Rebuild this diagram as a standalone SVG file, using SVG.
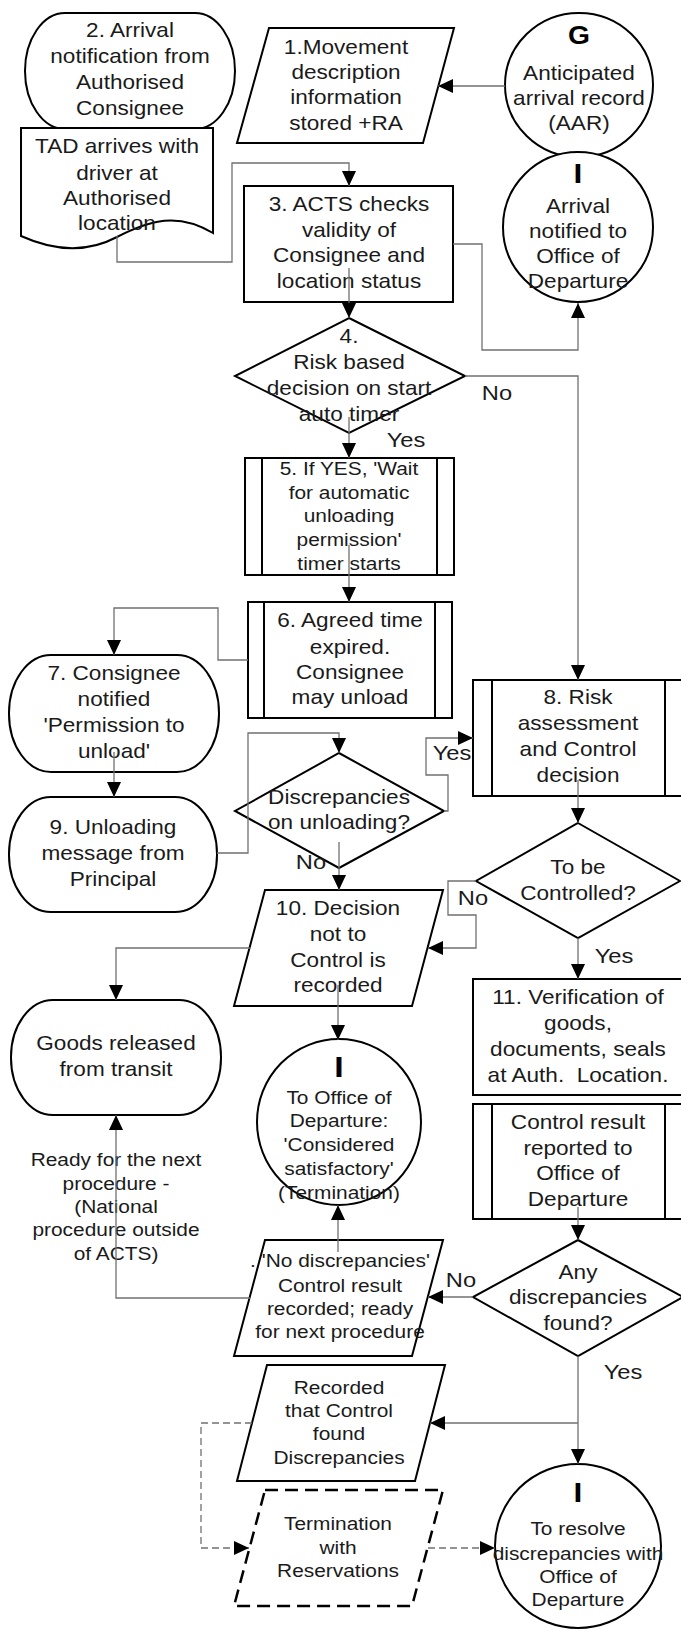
<svg xmlns="http://www.w3.org/2000/svg" width="681" height="1630" viewBox="0 0 681 1630">
<defs>
<style>
.s{fill:#fff;stroke:#000;stroke-width:2}
.l{fill:none;stroke:#000;stroke-width:2}
.c{fill:none;stroke:#707070;stroke-width:1.3}
.d{stroke-dasharray:7 4}
.td{stroke-dasharray:13 7;stroke-width:2.5}
text{font-family:"Liberation Sans",Arial,sans-serif;font-size:20px;fill:#1a1a1a;text-anchor:middle}
.b{font-weight:bold;fill:#000}
.sm{font-size:18.5px}
.lb{font-size:21px}
</style>
<marker id="a" markerUnits="userSpaceOnUse" markerWidth="16" markerHeight="16" refX="15" refY="7" orient="auto"><path d="M0,0 L15,7 L0,14 z" fill="#000"/></marker>
</defs>
<rect width="681" height="1630" fill="#fff"/>

<g id="n2">
<rect class="s" x="25" y="13" width="210" height="116" rx="40" ry="58"/>
<g transform="translate(130 0) scale(1.13 1)"><text y="37">2. Arrival</text><text y="63">notification from</text><text y="89">Authorised</text><text y="115">Consignee</text></g>
</g>
<g id="tad">
<path class="s" d="M21,128 H213 V233 C178,212 150,220 117,237 C85,254 52,250 21,236 Z"/>
<g transform="translate(117 0) scale(1.13 1)"><text y="153">TAD arrives with</text><text y="180">driver at</text><text y="205">Authorised</text><text y="230">location</text></g>
</g>
<g id="n1">
<path class="s" d="M269,28 L454,28 L423,143 L237,143 Z"/>
<g transform="translate(346 0) scale(1.13 1)"><text y="54">1.Movement</text><text y="79">description</text><text y="104">information</text><text y="130">stored +RA</text></g>
</g>
<g id="g">
<ellipse class="s" cx="579" cy="85" rx="74" ry="72"/>
<g transform="translate(579 0) scale(1.13 1)"><text class="b" y="44" style="font-size:25px">G</text><text y="80">Anticipated</text><text y="105">arrival record</text><text y="130">(AAR)</text></g>
</g>
<g id="i1">
<ellipse class="s" cx="578" cy="227" rx="75" ry="75"/>
<g transform="translate(578 0) scale(1.13 1)"><text class="b" y="183" style="font-size:28px">I</text><text y="213">Arrival</text><text y="238">notified to</text><text y="263">Office of</text><text y="288">Departure</text></g>
</g>
<g id="n3">
<rect class="s" x="244" y="186" width="209" height="116"/>
<g transform="translate(349 0) scale(1.13 1)"><text y="211">3. ACTS checks</text><text y="237">validity of</text><text y="262">Consignee and</text><text y="288">location status</text></g>
</g>
<g id="n4">
<path class="s" d="M349,318 L465,376 L349,433 L235,376 Z"/>
<g transform="translate(349 0) scale(1.13 1)"><text y="343">4.</text><text y="369">Risk based</text><text y="395">decision on start</text><text y="421">auto timer</text></g>
</g>
<g id="n5">
<rect class="s" x="245" y="458" width="209" height="117"/>
<path class="l" d="M262,458 V575 M437,458 V575"/>
<g transform="translate(349 0) scale(1.13 1)" class="sm"><text class="sm" y="475">5. If YES, 'Wait</text><text class="sm" y="499">for automatic</text><text class="sm" y="522">unloading</text><text class="sm" y="546">permission'</text><text class="sm" y="570">timer starts</text></g>
</g>
<g id="n6">
<rect class="s" x="248" y="602" width="204" height="116"/>
<path class="l" d="M264,602 V718 M435,602 V718"/>
<g transform="translate(350 0) scale(1.13 1)"><text y="627">6. Agreed time</text><text y="654">expired.</text><text y="679">Consignee</text><text y="704">may unload</text></g>
</g>
<g id="n7">
<rect class="s" x="9" y="655" width="210" height="117" rx="42" ry="58"/>
<g transform="translate(114 0) scale(1.13 1)"><text y="680">7. Consignee</text><text y="706">notified</text><text y="732">'Permission to</text><text y="758">unload'</text></g>
</g>
<g id="n9">
<rect class="s" x="9" y="797" width="208" height="115" rx="42" ry="57"/>
<g transform="translate(113 0) scale(1.13 1)"><text y="834">9. Unloading</text><text y="860">message from</text><text y="886">Principal</text></g>
</g>
<g id="disc">
<path class="s" d="M339,753 L444,811 L339,868 L235,811 Z"/>
<g transform="translate(339 0) scale(1.13 1)"><text y="804">Discrepancies</text><text y="829">on unloading?</text></g>
</g>
<g id="n8">
<rect class="s" x="473" y="680" width="211" height="116"/>
<path class="l" d="M492,680 V796 M665,680 V796"/>
<g transform="translate(578 0) scale(1.13 1)"><text y="704">8. Risk</text><text y="730">assessment</text><text y="756">and Control</text><text y="782">decision</text></g>
</g>
<g id="tobe">
<path class="s" d="M578,823 L680,881 L578,938 L476,881 Z"/>
<g transform="translate(578 0) scale(1.13 1)"><text y="874">To be</text><text y="900">Controlled?</text></g>
</g>
<g id="n10">
<path class="s" d="M265,890 L443,890 L412,1006 L234,1006 Z"/>
<g transform="translate(338 0) scale(1.13 1)"><text y="915">10. Decision</text><text y="941">not to</text><text y="967">Control is</text><text y="992">recorded</text></g>
</g>
<g id="goods">
<rect class="s" x="11" y="1000" width="210" height="115" rx="42" ry="57"/>
<g transform="translate(116 0) scale(1.13 1)"><text y="1050">Goods released</text><text y="1076">from transit</text></g>
</g>
<g id="i2">
<ellipse class="s" cx="339" cy="1122" rx="82" ry="83"/>
<g transform="translate(339 0) scale(1.13 1)"><text class="b" y="1077" style="font-size:30px">I</text><text class="sm" y="1104">To Office of</text><text class="sm" y="1127">Departure:</text><text class="sm" y="1151">'Considered</text><text class="sm" y="1175">satisfactory'</text><text class="sm" y="1199">(Termination)</text></g>
</g>
<g id="n11">
<rect class="s" x="473" y="979" width="211" height="116"/>
<g transform="translate(578 0) scale(1.13 1)"><text y="1004">11. Verification of</text><text y="1030">goods,</text><text y="1056">documents, seals</text><text y="1082" style="white-space:pre">at Auth.  Location.</text></g>
</g>
<g id="ctrl">
<rect class="s" x="473" y="1104" width="211" height="115"/>
<path class="l" d="M492,1104 V1219 M665,1104 V1219"/>
<g transform="translate(578 0) scale(1.13 1)"><text y="1129">Control result</text><text y="1155">reported to</text><text y="1180">Office of</text><text y="1206">Departure</text></g>
</g>
<g id="any">
<path class="s" d="M578,1240 L683,1297 L578,1356 L473,1297 Z"/>
<g transform="translate(578 0) scale(1.13 1)"><text y="1279">Any</text><text y="1304">discrepancies</text><text y="1330">found?</text></g>
</g>
<g id="nodisc">
<path class="s" d="M265,1240 L443,1240 L412,1356 L234,1356 Z"/>
<g transform="translate(340 0) scale(1.13 1)"><text class="sm" y="1267">. 'No discrepancies'</text><text class="sm" y="1292">Control result</text><text class="sm" y="1315">recorded; ready</text><text class="sm" y="1338">for next procedure</text></g>
</g>
<g id="ready">
<g transform="translate(116 0) scale(1.13 1)"><text class="sm" y="1166">Ready for the next</text><text class="sm" y="1190">procedure -</text><text class="sm" y="1213">(National</text><text class="sm" y="1236">procedure outside</text><text class="sm" y="1260">of ACTS)</text></g>
</g>
<g id="rec">
<path class="s" d="M267,1365 L445,1365 L415,1481 L237,1481 Z"/>
<g transform="translate(339 0) scale(1.13 1)"><text class="sm" y="1394">Recorded</text><text class="sm" y="1417">that Control</text><text class="sm" y="1440">found</text><text class="sm" y="1464">Discrepancies</text></g>
</g>
<g id="term">
<path class="s td" d="M265,1490 L443,1490 L412,1606 L234,1606 Z"/>
<g transform="translate(338 0) scale(1.13 1)"><text class="sm" y="1530">Termination</text><text class="sm" y="1554">with</text><text class="sm" y="1577">Reservations</text></g>
</g>
<g id="i3">
<ellipse class="s" cx="578" cy="1546" rx="83" ry="82"/>
<g transform="translate(578 0) scale(1.13 1)"><text class="b" y="1502" style="font-size:28px">I</text><text class="sm" y="1535">To resolve</text><text class="sm" y="1560">discrepancies with</text><text class="sm" y="1583">Office of</text><text class="sm" y="1606">Departure</text></g>
</g>

<g id="connectors">
<path class="c" marker-end="url(#a)" d="M505,86 H438"/>
<path class="c" marker-end="url(#a)" d="M117,236 V262 H232 V163 H349 V186"/>
<path class="c" marker-end="url(#a)" d="M453,244 H482 V350 H578 V303"/>
<path class="c" marker-end="url(#a)" d="M349,268 V318"/>
<path class="c" marker-end="url(#a)" d="M465,376 H578 V680"/>
<path class="c" marker-end="url(#a)" d="M349,417 V458"/>
<path class="c" marker-end="url(#a)" d="M349,545 V602"/>
<path class="c" marker-end="url(#a)" d="M248,660 H218 V608 H114 V655"/>
<path class="c" marker-end="url(#a)" d="M114,752 V797"/>
<path class="c" marker-end="url(#a)" d="M217,853 H248 V733 H339 V753"/>
<path class="c" marker-end="url(#a)" d="M444,811 H448 V775 H426 V738 H473"/>
<path class="c" marker-end="url(#a)" d="M339,842 V890"/>
<path class="c" marker-end="url(#a)" d="M578,780 V823"/>
<path class="c" marker-end="url(#a)" d="M476,881 H448 V915 H476 V948 H428"/>
<path class="c" marker-end="url(#a)" d="M578,938 V979"/>
<path class="c" marker-end="url(#a)" d="M250,948 H116 V1000"/>
<path class="c" marker-end="url(#a)" d="M338,985 V1040"/>
<path class="c" marker-end="url(#a)" d="M578,1207 V1240"/>
<path class="c" marker-end="url(#a)" d="M473,1297 H428"/>
<path class="c" marker-end="url(#a)" d="M338,1252 V1205"/>
<path class="c" marker-end="url(#a)" d="M250,1298 H116 V1115"/>
<path class="c" marker-end="url(#a)" d="M578,1356 V1464"/>
<path class="c" marker-end="url(#a)" d="M578,1423 H430"/>
<path class="c d" marker-end="url(#a)" d="M252,1423 H201 V1548 H249"/>
<path class="c d" marker-end="url(#a)" d="M428,1548 H495"/>
<g id="labels">
<g transform="translate(497 0) scale(1.13 1)"><text class="lb" y="400">No</text></g>
<g transform="translate(406 0) scale(1.13 1)"><text class="lb" y="447">Yes</text></g>
<g transform="translate(452 0) scale(1.13 1)"><text class="lb" y="760">Yes</text></g>
<g transform="translate(311 0) scale(1.13 1)"><text class="lb" y="869">No</text></g>
<g transform="translate(473 0) scale(1.13 1)"><text class="lb" y="905">No</text></g>
<g transform="translate(614 0) scale(1.13 1)"><text class="lb" y="963">Yes</text></g>
<g transform="translate(461 0) scale(1.13 1)"><text class="lb" y="1287">No</text></g>
<g transform="translate(623 0) scale(1.13 1)"><text class="lb" y="1379">Yes</text></g>
</g>
</g>
</svg>
